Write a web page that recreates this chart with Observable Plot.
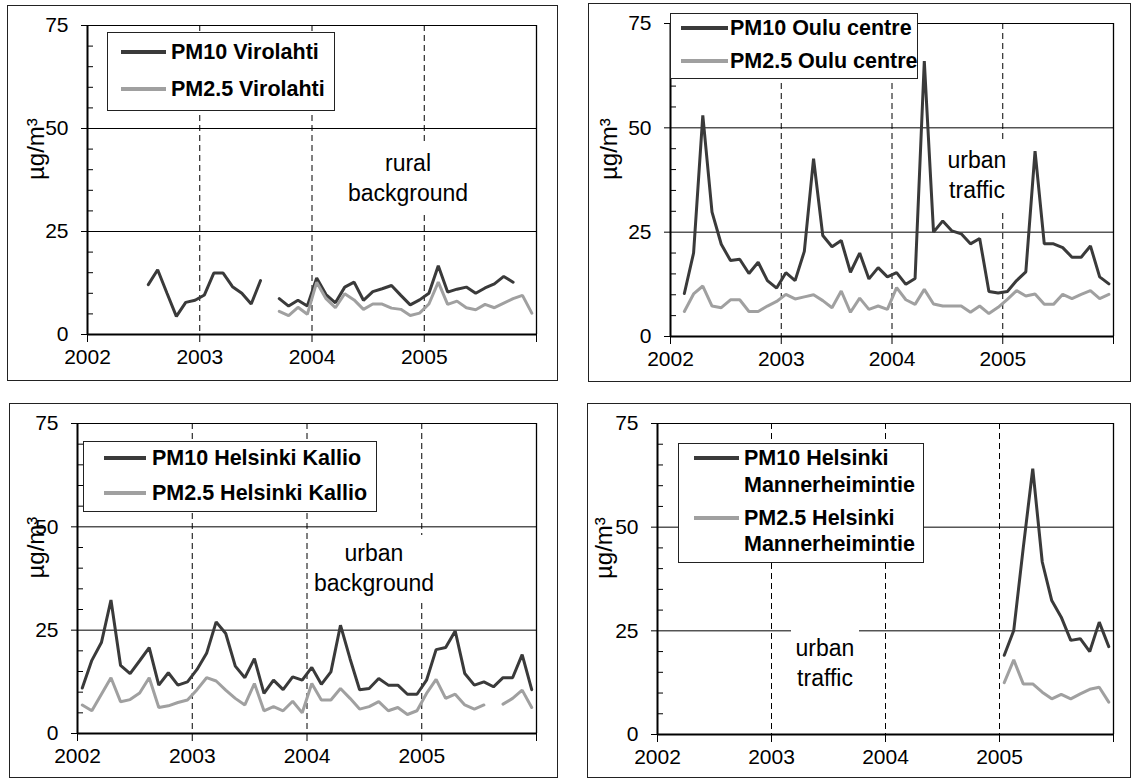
<!DOCTYPE html>
<html><head><meta charset="utf-8">
<script src="https://cdn.jsdelivr.net/npm/d3@7"></script>
<script src="https://cdn.jsdelivr.net/npm/@observablehq/plot@0.6"></script>
<style>
body{margin:0;background:#fff;font-family:"Liberation Sans",Arial,sans-serif;}
#root{position:relative;width:1133px;height:780px;overflow:hidden;background:#fff;}
.panel{position:absolute;outline:1px solid #222;outline-offset:-1px;}
.panel svg{position:absolute;left:0;top:0;}
.legend{position:absolute;background:#fff;outline:1px solid #222;outline-offset:-1px;}
.row{position:absolute;font-weight:bold;font-size:21.5px;line-height:24px;white-space:nowrap;color:#000;}
.sw{position:absolute;height:4px;}
.note{position:absolute;background:#fff;text-align:center;font-size:23px;line-height:30px;color:#000;}
</style></head>
<body><div id="root"></div>
<script>
// ---- data (monthly means, Jan 2002 .. Dec 2005; null = no data) ----
const years = [2002, 2003, 2004, 2005];
const yearTicks = [2002, 2003, 2004, 2005, 2006];
const dashYears = [2003, 2004, 2005];
const majorY = [0, 25, 50, 75];
const gridY = [25, 50, 75];
const minorY = [5, 10, 15, 20, 30, 35, 40, 45, 55, 60, 65, 70];

const virolahtiPM10 = [
  null, null, null, null, null, null, 12.1, 15.7, 10.0, 4.4, 7.8, 8.3,
  9.6, 14.9, 14.9, 11.6, 10.0, 7.4, 13.1, null, 8.7, 6.9, 8.3, 6.9,
  13.7, 9.7, 7.7, 11.5, 12.7, 8.3, 10.4, 11.1, 11.9, 9.5, 7.2, 8.4,
  10.0, 16.7, 10.3, 11.0, 11.5, 10.0, 11.3, 12.3, 14.1, 12.7, null, null];
const virolahtiPM25 = [
  null, null, null, null, null, null, null, null, null, null, null, null,
  null, null, null, null, null, null, null, null, 5.6, 4.6, 6.6, 4.9,
  12.7, 8.7, 6.5, 9.9, 8.4, 6.1, 7.4, 7.4, 6.4, 6.1, 4.6, 5.2,
  7.4, 12.7, 7.3, 8.1, 6.5, 6.0, 7.3, 6.5, 7.6, 8.7, 9.5, 5.2];

const ouluPM10 = [
  null, 10.3, 20.0, 53.0, 29.8, 22.1, 18.2, 18.5, 15.1, 17.8, 13.4, 11.6,
  15.3, 13.4, 20.4, 42.6, 24.2, 21.5, 23.0, 15.4, 20.0, 13.8, 16.5, 14.3,
  15.3, 12.5, 13.9, 66.0, 25.0, 27.7, 25.3, 24.6, 22.2, 23.5, 10.8, 10.4,
  10.8, 13.4, 15.5, 44.4, 22.2, 22.2, 21.3, 19.0, 19.0, 21.7, 14.3, 12.6];
const ouluPM25 = [
  null, 6.0, 10.2, 12.1, 7.3, 6.9, 8.8, 8.8, 6.0, 6.0, 7.3, 8.4,
  10.1, 9.0, 9.5, 10.0, 8.6, 6.9, 10.9, 5.8, 9.2, 6.5, 7.3, 6.5,
  11.7, 8.8, 7.7, 11.3, 7.8, 7.3, 7.3, 7.3, 5.8, 7.3, 5.5, 7.0,
  8.9, 11.0, 9.7, 10.2, 7.7, 7.7, 10.1, 9.1, 10.1, 11.0, 9.1, 10.1];

const kallioPM10 = [
  11.0, 17.7, 22.0, 32.3, 16.5, 14.5, 17.6, 20.8, 11.7, 14.7, 11.7, 12.5,
  15.5, 19.4, 27.0, 24.2, 16.3, 13.5, 18.1, 9.7, 12.9, 10.6, 13.7, 12.9,
  16.0, 11.9, 14.9, 26.2, 18.1, 10.6, 10.9, 13.3, 11.7, 11.7, 9.5, 9.5,
  12.9, 20.3, 20.8, 24.8, 14.5, 11.7, 12.5, 11.3, 13.5, 13.5, 19.1, 10.6];
const kallioPM25 = [
  6.9, 5.5, 9.5, 13.5, 7.7, 8.2, 9.8, 13.5, 6.3, 6.7, 7.5, 8.1,
  10.6, 13.5, 12.7, 10.5, 8.5, 6.9, 12.1, 5.5, 6.5, 5.5, 7.8, 5.0,
  12.1, 8.1, 8.1, 10.9, 8.5, 5.9, 6.5, 7.7, 5.5, 6.3, 4.6, 5.5,
  9.7, 13.1, 8.5, 9.5, 6.9, 5.9, 6.9, null, 7.1, 8.5, 10.5, 6.3];

const mannerPM10 = [
  null, null, null, null, null, null, null, null, null, null, null, null,
  null, null, null, null, null, null, null, null, null, null, null, null,
  null, null, null, null, null, null, null, null, null, null, null, null,
  19.1, 25.1, 45.0, 64.1, 41.6, 32.3, 28.3, 22.7, 23.1, 20.0, 27.1, 21.2];
const mannerPM25 = [
  null, null, null, null, null, null, null, null, null, null, null, null,
  null, null, null, null, null, null, null, null, null, null, null, null,
  null, null, null, null, null, null, null, null, null, null, null, null,
  12.5, 18.0, 12.2, 12.2, 10.2, 8.6, 9.7, 8.6, 9.8, 10.9, 11.4, 7.8];

// month mid-points as decimal years
const months = d3.range(years.length * 12).map(i => years[0] + (i + 0.5) / 12);

const PM10_COLOR = "#3a3a3a";
const PM25_COLOR = "#a0a0a0";
const FONT = "'Liberation Sans', Arial, sans-serif";

const panels = [
  {box: {l: 7, t: 5, w: 551, h: 376}, m: {l: 80, r: 22, t: 20, b: 47}, labelDx: -51,
   pm10: virolahtiPM10, pm25: virolahtiPM25,
   legend: {l: 107, t: 32, w: 228, h: 79, sw: [121, 166], tx: 171,
     rows: [{y: 52, text: "PM10 Virolahti", c: PM10_COLOR}, {y: 89, text: "PM2.5 Virolahti", c: PM25_COLOR}]},
   note: {cx: 408, y: 163, w: 128, lines: ["rural", "background"]}},
  {box: {l: 588, t: 3, w: 543, h: 379}, m: {l: 82, r: 18, t: 20, b: 46}, labelDx: -61,
   pm10: ouluPM10, pm25: ouluPM25,
   legend: {l: 670, t: 13, w: 248, h: 66, sw: [681, 728], tx: 730,
     rows: [{y: 28, text: "PM10 Oulu centre", c: PM10_COLOR}, {y: 61, text: "PM2.5 Oulu centre", c: PM25_COLOR}]},
   note: {cx: 977, y: 160, w: 74, lines: ["urban", "traffic"]}},
  {box: {l: 9, t: 403, w: 549, h: 375}, m: {l: 68, r: 22, t: 20, b: 45}, labelDx: -41,
   pm10: kallioPM10, pm25: kallioPM25,
   legend: {l: 83, t: 441, w: 294, h: 71, sw: [104, 146], tx: 152,
     rows: [{y: 458, text: "PM10 Helsinki Kallio", c: PM10_COLOR}, {y: 493, text: "PM2.5 Helsinki Kallio", c: PM25_COLOR}]},
   note: {cx: 374, y: 553, w: 130, lines: ["urban", "background"]}},
  {box: {l: 587, t: 403, w: 544, h: 375}, m: {l: 70, r: 18, t: 20, b: 44}, labelDx: -53,
   pm10: mannerPM10, pm25: mannerPM25,
   legend: {l: 678, t: 443, w: 246, h: 120, sw: [694, 739], tx: 744,
     rows: [{y: 458, text: "PM10 Helsinki", c: PM10_COLOR}, {y: 485, text: "Mannerheimintie", c: null},
            {y: 518, text: "PM2.5 Helsinki", c: PM25_COLOR}, {y: 544, text: "Mannerheimintie", c: null}]},
   note: {cx: 825, y: 648, w: 68, lines: ["urban", "traffic"]}}
];

const root = document.getElementById("root");

for (const p of panels) {
  const table = months.map((x, i) => ({x, pm10: p.pm10[i], pm25: p.pm25[i]}));
  const plotW = p.box.w - p.m.l - p.m.r;
  const svg = Plot.plot({
    width: p.box.w, height: p.box.h,
    marginLeft: p.m.l, marginRight: p.m.r, marginTop: p.m.t, marginBottom: p.m.b,
    style: {fontFamily: FONT, color: "#000", background: "transparent", overflow: "visible"},
    x: {domain: [2002, 2006], axis: null},
    y: {domain: [0, 75], axis: null},
    marks: [
      Plot.ruleY(gridY, {stroke: "#000", strokeWidth: 1}),
      Plot.ruleX([2006], {stroke: "#000", strokeWidth: 1.3}),
      Plot.ruleX(dashYears, {stroke: "#000", strokeWidth: 1, strokeDasharray: "6,4"}),
      Plot.tickY(minorY, {y: d => d, stroke: "#000", strokeWidth: 1, insetRight: plotW - 6}),
      Plot.line(table, {x: "x", y: "pm10", stroke: PM10_COLOR, strokeWidth: 3, strokeLinejoin: "miter"}),
      Plot.line(table, {x: "x", y: "pm25", stroke: PM25_COLOR, strokeWidth: 3, strokeLinejoin: "miter"}),
      Plot.ruleY([0], {stroke: "#000", strokeWidth: 2}),
      Plot.ruleX([2002], {stroke: "#000", strokeWidth: 2}),
      Plot.axisY({ticks: majorY, tickSize: 6, tickPadding: 13, fontSize: 21, stroke: "#000", label: null}),
      Plot.axisX({ticks: yearTicks, tickSize: 8, tickPadding: 7, fontSize: 21, label: null,
                  tickFormat: d => d === 2006 ? "" : String(d)}),
      Plot.text(["µg/m³"], {frameAnchor: "left", rotate: -90, dx: p.labelDx, fontSize: 24, fill: "#000"})
    ]
  });
  const div = document.createElement("div");
  div.className = "panel";
  div.style.cssText = `left:${p.box.l}px;top:${p.box.t}px;width:${p.box.w}px;height:${p.box.h}px;`;
  div.appendChild(svg);
  root.appendChild(div);

  // legend (white box over the plot)
  const L = p.legend;
  const lg = document.createElement("div");
  lg.className = "legend";
  lg.style.cssText = `left:${L.l}px;top:${L.t}px;width:${L.w}px;height:${L.h}px;`;
  for (const r of L.rows) {
    if (r.c) {
      const sw = document.createElement("div");
      sw.className = "sw";
      sw.style.cssText = `left:${L.sw[0] - L.l}px;width:${L.sw[1] - L.sw[0]}px;top:${r.y - L.t - 2}px;background:${r.c};`;
      lg.appendChild(sw);
    }
    const t = document.createElement("div");
    t.className = "row";
    t.style.cssText = `left:${L.tx - L.l}px;top:${r.y - L.t - 12}px;`;
    t.textContent = r.text;
    lg.appendChild(t);
  }
  root.appendChild(lg);

  // annotation text with white background
  const N = p.note;
  const nt = document.createElement("div");
  nt.className = "note";
  nt.style.cssText = `left:${N.cx - N.w / 2}px;top:${N.y - 18}px;width:${N.w}px;padding:3px 0 5px 0;`;
  nt.innerHTML = N.lines.join("<br>");
  root.appendChild(nt);
}
</script>
</body></html>
